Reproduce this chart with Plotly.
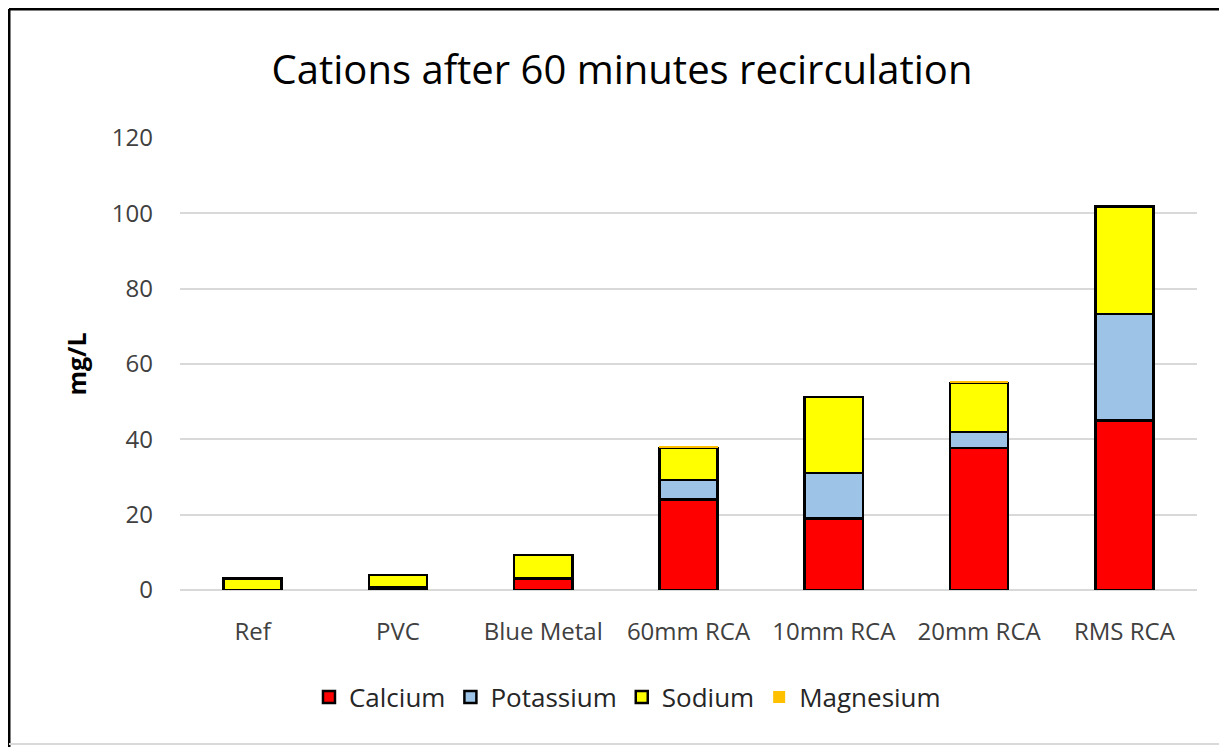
import plotly.graph_objects as go

categories = ["Ref", "PVC", "Blue Metal", "60mm RCA", "10mm RCA", "20mm RCA", "RMS RCA"]
calcium = [0, 0.5, 3, 24, 19, 37.7, 45]
potassium = [0, 0.3, 0, 5.2, 12, 4.3, 28.3]
sodium = [3, 3.2, 6.3, 8.5, 20.2, 13, 28.5]
magnesium = [0, 0, 0, 0.6, 0, 0.6, 0]

series = [
    ("Calcium", calcium, "#ff0000", 2.5),
    ("Potassium", potassium, "#9dc3e6", 2.5),
    ("Sodium", sodium, "#ffff00", 2.5),
    ("Magnesium", magnesium, "#ffc000", 0),
]

FONT = "Open Sans"

# page body has an 8px margin, so the figure is sized and placed 8px in
W, H = 1219, 739
L, R, T, B = 172, 30, 130, 157
PW, PH = W - L - R, H - T - B

fig = go.Figure()
for name, values, color, lw in series:
    fig.add_trace(go.Bar(
        x=categories, y=values, name=name,
        marker={"color": color, "line": {"color": "black", "width": lw}},
    ))

fig.update_layout(
    barmode="stack", bargap=0.6,
    width=W, height=H,
    paper_bgcolor="white", plot_bgcolor="white",
    margin={"l": L, "r": R, "t": T, "b": B},
    font={"family": FONT, "size": 18, "color": "#404040"},
    title={"text": "Cations after 60 minutes recirculation", "x": (622 - 8) / W, "xanchor": "center",
           "y": 1 - 62 / H, "yanchor": "middle", "font": {"size": 40, "color": "black", "family": FONT}},
    legend={"orientation": "h", "x": 0.44, "xanchor": "center", "y": (H - B - 689) / PH, "yanchor": "middle",
            "font": {"size": 26, "color": "#262626"}, "itemwidth": 30, "traceorder": "normal"},
    showlegend=True,
)
fig.update_yaxes(
    range=[0, 120], dtick=20, showgrid=True, gridcolor="#d9d9d9", gridwidth=2,
    zeroline=True, zerolinecolor="#d9d9d9", zerolinewidth=2, showline=False,
    ticks="", ticklabelstandoff=26, tickfont={"size": 24, "color": "#404040"},
    title={"text": "<b>mg/L</b>", "font": {"size": 25, "color": "black"}, "standoff": 18},
)
fig.update_xaxes(showline=False, ticks="", ticklabelstandoff=25,
                 tickfont={"size": 24, "color": "#404040"})

# outer frame: dark left/top edges, light bottom edge
fx0 = (1 - L) / PW
fx1 = (W - L) / PW
fy_top = (H - B - 1) / PH
fy_bot = (H - B - (H - 3)) / PH
fig.add_shape(type="line", xref="paper", yref="paper", x0=fx0, x1=fx0, y0=(H - B - H) / PH, y1=fy_top,
              line={"color": "black", "width": 3})
fig.add_shape(type="line", xref="paper", yref="paper", x0=fx0, x1=fx1, y0=fy_top, y1=fy_top,
              line={"color": "black", "width": 3})
fig.add_shape(type="line", xref="paper", yref="paper", x0=fx0, x1=fx1, y0=fy_bot, y1=fy_bot,
              line={"color": "#d9d9d9", "width": 2})

fig.write_html("out.html")
